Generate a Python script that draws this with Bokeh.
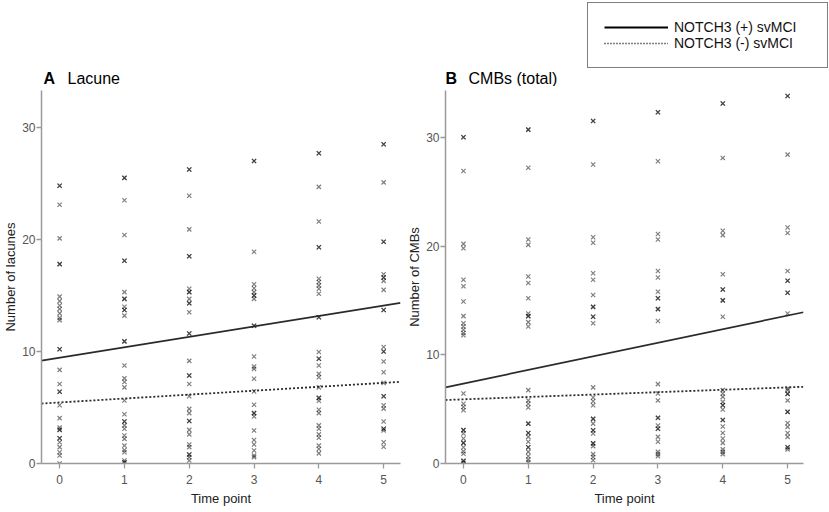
from bokeh.plotting import figure
from bokeh.layouts import row, column
from bokeh.models import Range1d, FixedTicker, Label, Legend, LegendItem, ColumnDataSource
from bokeh.embed import file_html
from bokeh.resources import INLINE

FONT = "Liberation Sans"

time_points = [0, 1, 2, 3, 4, 5]
x_tick_labels = ["0", "1", "2", "3", "4", "5"]
y_ticks = [0, 10, 20, 30]

lacune_t0 = [24.8, 24.8, 23.1, 20.1, 17.8, 17.8, 14.9, 14.5, 14.1, 13.8, 13.4, 13.0, 12.8, 10.2, 10.2, 8.36, 7.1, 6.4, 6.4, 5.2, 4.05, 3.2, 3.0, 3.0, 2.26, 2.26, 1.9, 1.46, 1.0, 0.72, 0.0]
lacune_t1 = [25.5, 25.5, 23.5, 20.4, 18.1, 18.1, 15.3, 14.7, 14.7, 14.0, 13.7, 13.7, 13.2, 10.9, 10.9, 8.75, 7.6, 7.27, 6.8, 5.62, 4.4, 3.75, 3.75, 3.4, 3.1, 2.5, 2.2, 1.6, 1.2, 1.0, 0.27, 0.1, 0.1]
lacune_t2 = [26.25, 26.25, 23.9, 20.9, 18.5, 18.5, 15.6, 15.3, 15.3, 14.7, 14.3, 14.3, 13.5, 11.6, 11.6, 9.16, 7.86, 7.86, 7.1, 6.0, 4.88, 4.5, 3.8, 3.8, 3.0, 2.6, 1.7, 1.46, 0.8, 0.8, 0.57, 0.27]
lacune_t3 = [27.0, 27.0, 18.9, 16.0, 15.65, 15.3, 15.0, 15.0, 14.7, 12.3, 12.3, 9.55, 8.66, 8.45, 7.56, 6.43, 5.24, 4.5, 4.5, 4.2, 2.95, 2.1, 1.7, 1.16, 0.72, 0.57]
lacune_t4 = [27.7, 27.7, 24.7, 21.6, 19.3, 19.3, 16.5, 16.2, 15.9, 15.6, 15.15, 13.06, 13.06, 9.95, 9.35, 9.35, 8.75, 8.0, 7.7, 6.8, 5.86, 5.86, 5.6, 4.8, 4.5, 3.4, 3.1, 2.6, 2.3, 1.6, 1.3, 0.9]
lacune_t5 = [28.5, 28.5, 25.1, 19.8, 19.8, 16.9, 16.6, 16.6, 16.3, 15.5, 13.7, 13.7, 10.4, 10.0, 10.0, 9.1, 8.15, 7.2, 6.0, 6.0, 5.2, 4.9, 3.75, 3.1, 3.1, 2.95, 1.9, 1.5]

cmb_t0 = [30.0, 30.0, 26.9, 20.2, 19.8, 16.9, 16.3, 14.9, 13.55, 12.9, 12.6, 12.3, 12.0, 11.8, 6.44, 5.5, 5.2, 4.9, 3.07, 3.07, 2.76, 2.3, 1.9, 1.9, 1.5, 1.13, 0.9, 0.24, 0.24, 0.06]
cmb_t1 = [30.7, 30.7, 27.2, 20.6, 20.1, 17.2, 16.6, 15.2, 13.8, 13.55, 13.55, 13.0, 12.6, 6.75, 5.8, 5.5, 5.15, 3.67, 3.67, 2.8, 2.8, 2.45, 2.0, 1.5, 1.5, 1.07, 0.67, 0.36, 0.12]
cmb_t2 = [31.5, 31.5, 27.5, 20.8, 20.3, 17.5, 16.9, 15.5, 14.4, 14.4, 13.5, 13.5, 12.9, 7.0, 6.07, 5.73, 5.36, 4.1, 4.1, 3.67, 3.06, 3.06, 2.76, 1.85, 1.85, 1.6, 0.86, 0.6, 0.3]
cmb_t3 = [32.3, 32.3, 27.8, 21.1, 20.6, 17.7, 17.1, 15.8, 15.2, 15.2, 14.2, 14.2, 13.1, 7.3, 6.44, 5.8, 4.2, 4.2, 3.5, 3.2, 3.2, 2.45, 2.0, 1.07, 0.86, 0.67]
cmb_t4 = [33.1, 33.1, 28.1, 21.4, 21.0, 17.4, 16.0, 16.0, 15.0, 15.0, 13.5, 6.75, 6.44, 6.13, 5.67, 5.36, 5.36, 4.96, 4.0, 4.0, 3.4, 2.8, 2.3, 1.9, 1.3, 1.07, 0.86]
cmb_t5 = [33.8, 33.8, 28.4, 21.7, 21.2, 17.7, 16.8, 16.8, 15.7, 15.7, 13.8, 6.9, 6.75, 6.4, 6.4, 5.8, 4.75, 4.75, 3.73, 3.37, 2.8, 2.45, 1.5, 1.5, 1.3]

# regression lines: (intercept, slope)
lacune_pos_fit = [9.45, 0.93]
lacune_neg_fit = [5.45, 0.35]
cmb_pos_fit = [7.35, 1.25]
cmb_neg_fit = [5.9, 0.22]

panel_letters = ["A", "B"]
panel_titles = ["Lacune", "CMBs (total)"]
legend_labels = ["NOTCH3 (+) svMCI", "NOTCH3 (-) svMCI"]

HEADER_H = 86


def flatten(groups):
    xs, ys = [], []
    for t, vals in zip(time_points, groups):
        xs += [t] * len(vals)
        ys += vals
    return xs, ys


def make_panel(groups, pos_fit, neg_fit, xr, yr, ylabel, width, bl, br):
    p = figure(width=width, height=425, output_backend="svg", toolbar_location=None,
               x_range=Range1d(*xr), y_range=Range1d(*yr),
               min_border_left=bl, min_border_right=br, min_border_top=4, min_border_bottom=48)
    p.outline_line_color = None
    p.xgrid.visible = False
    p.ygrid.visible = False

    xs, ys = flatten(groups)
    p.scatter(xs, ys, marker="x", size=6, line_color="black", line_alpha=0.5, line_width=1.2)

    lx = [xr[0], xr[1]]
    p.line(lx, [pos_fit[0] + pos_fit[1] * v for v in lx], line_color="#2a2a2a", line_width=1.7)
    p.line(lx, [neg_fit[0] + neg_fit[1] * v for v in lx], line_color="#2a2a2a", line_width=1.8,
           line_dash="2 2")

    for ax in (p.xaxis[0], p.yaxis[0]):
        ax.axis_line_color = "#9a9a9a"
        ax.axis_line_width = 1.5
        ax.major_tick_line_color = "#9a9a9a"
        ax.major_tick_line_width = 1.3
        ax.major_tick_in = 0
        ax.major_tick_out = 5
        ax.minor_tick_line_color = None
        ax.major_label_text_font = FONT
        ax.major_label_text_font_size = "12px"
        ax.major_label_text_color = "#555555"
        ax.axis_label_text_font = FONT
        ax.axis_label_text_font_size = "13px"
        ax.axis_label_text_font_style = "normal"
        ax.axis_label_text_color = "#222222"
    p.xaxis.ticker = FixedTicker(ticks=time_points)
    p.xaxis.major_label_overrides = {t: s for t, s in zip(time_points, x_tick_labels)}
    p.yaxis.ticker = FixedTicker(ticks=y_ticks)
    p.xaxis.axis_label = "Time point"
    p.yaxis.axis_label = ylabel
    p.xaxis.major_label_standoff = 6
    p.xaxis.axis_label_standoff = 4
    p.yaxis.major_label_standoff = 1
    p.yaxis.axis_label_standoff = 1
    return p


pA = make_panel([lacune_t0, lacune_t1, lacune_t2, lacune_t3, lacune_t4, lacune_t5],
                lacune_pos_fit, lacune_neg_fit, (-0.28, 5.26), (0, 33.3),
                "Number of lacunes", 404, 38, 4)
pB = make_panel([cmb_t0, cmb_t1, cmb_t2, cmb_t3, cmb_t4, cmb_t5],
                cmb_pos_fit, cmb_neg_fit, (-0.277, 5.245), (0, 34.3),
                "Number of CMBs", 425, 38, 26)

# header strip holding the panel titles and the shared legend
header = figure(width=829, height=HEADER_H, output_backend="svg", toolbar_location=None,
                x_axis_type=None, y_axis_type=None, x_range=Range1d(0, 1), y_range=Range1d(0, 1),
                min_border=0)
header.outline_line_color = None
header.xgrid.visible = False
header.ygrid.visible = False

title_x = [(43, 67), (445, 468)]
for (lx_, tx_), letter, title in zip(title_x, panel_letters, panel_titles):
    header.add_layout(Label(x=lx_, y=8, x_units="screen", y_units="screen", text=letter,
                            text_font=FONT, text_font_size="16px", text_font_style="bold",
                            text_color="black", text_baseline="alphabetic"))
    header.add_layout(Label(x=tx_, y=8, x_units="screen", y_units="screen", text=title,
                            text_font=FONT, text_font_size="16px",
                            text_color="black", text_baseline="alphabetic"))

# legend sample lines (kept outside the header's visible range)
src = ColumnDataSource(data=dict(x=[2, 3], y=[2, 3]))
d_pos = header.line("x", "y", source=src, line_color="black", line_width=1.8)
d_neg = header.line("x", "y", source=src, line_color="black", line_width=1.4, line_dash="1 2")
lg = Legend(items=[LegendItem(label=legend_labels[0], renderers=[d_pos]),
                   LegendItem(label=legend_labels[1], renderers=[d_neg])],
            location=(587, HEADER_H - 68))
lg.border_line_color = "black"
lg.border_line_width = 1
lg.background_fill_color = "white"
lg.background_fill_alpha = 1
lg.padding = 16
lg.spacing = 0
lg.glyph_width = 64
lg.glyph_height = 16
lg.label_height = 16
lg.label_width = 137
lg.label_standoff = 6
lg.label_text_font = FONT
lg.label_text_font_size = "14px"
lg.label_text_color = "#111111"
lg.margin = 0
header.add_layout(lg)

layout = column(header, row(pA, pB))
open("out.html", "w").write(file_html(layout, INLINE))
